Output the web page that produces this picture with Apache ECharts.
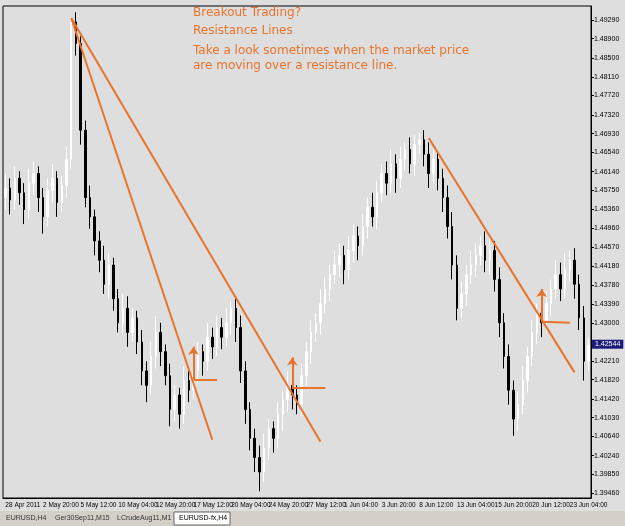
<!DOCTYPE html>
<html>
<head>
<meta charset="utf-8">
<script src="https://cdn.jsdelivr.net/npm/echarts@6/dist/echarts.min.js"></script>
<style>
  html, body { margin: 0; padding: 0; background: #d4d0c8; }
  #chart { width: 625px; height: 526px; }
</style>
</head>
<body>
<div id="chart"></div>
<script>
// date labels, one every 8 candles
const dateLabels = ['28 Apr 2011', '2 May 20:00', '5 May 12:00', '10 May 04:00', '12 May 20:00', '17 May 12:00',
  '20 May 04:00', '24 May 20:00', '27 May 12:00', '1 Jun 04:00', '3 Jun 20:00', '8 Jun 12:00',
  '13 Jun 04:00', '15 Jun 20:00', '20 Jun 12:00', '23 Jun 04:00'];

const priceTicks = [1.4929, 1.4890, 1.4850, 1.4811, 1.4772, 1.4732, 1.4693, 1.4654, 1.4614, 1.4575,
  1.4536, 1.4496, 1.4457, 1.4418, 1.4378, 1.4339, 1.4300, 1.4221, 1.4182, 1.4142,
  1.4103, 1.4064, 1.4024, 1.3985, 1.3946];
const lastPrice = 1.42544;

const closes = [1.4580, 1.4555, 1.4600, 1.4570, 1.4535, 1.4590, 1.4610, 1.4560, 1.4520, 1.4575,
  1.4600, 1.4550, 1.4585, 1.4640, 1.4925, 1.4880, 1.4700, 1.4560, 1.4520, 1.4470,
  1.4430, 1.4380, 1.4420, 1.4350, 1.4300, 1.4330, 1.4280, 1.4310, 1.4260, 1.4200,
  1.4170, 1.4230, 1.4280, 1.4240, 1.4190, 1.4120, 1.4150, 1.4110, 1.4180, 1.4160,
  1.4200, 1.4240, 1.4220, 1.4270, 1.4250, 1.4290, 1.4270, 1.4300, 1.4330, 1.4290,
  1.4200, 1.4120, 1.4060, 1.4020, 1.3990, 1.4040, 1.4080, 1.4060, 1.4110, 1.4140,
  1.4170, 1.4150, 1.4130, 1.4190, 1.4240, 1.4280, 1.4300, 1.4340, 1.4370, 1.4400,
  1.4420, 1.4440, 1.4410, 1.4450, 1.4480, 1.4460, 1.4500, 1.4540, 1.4520, 1.4570,
  1.4610, 1.4590, 1.4630, 1.4600, 1.4640, 1.4660, 1.4630, 1.4670, 1.4680, 1.4650,
  1.4610, 1.4640, 1.4600, 1.4560, 1.4500, 1.4420, 1.4330, 1.4360, 1.4400, 1.4420,
  1.4440, 1.4460, 1.4430, 1.4450, 1.4390, 1.4300, 1.4230, 1.4160, 1.4100, 1.4130,
  1.4180, 1.4230, 1.4280, 1.4320, 1.4300, 1.4340, 1.4370, 1.4400, 1.4370, 1.4410,
  1.4430, 1.4380, 1.4310, 1.4220, 1.4254];

// wick lengths in pips
const wickUp = [30, 20, 25, 15, 20, 30, 25, 15, 20, 25, 30, 15, 20, 25, 10, 20, 15, 20, 25, 15,
  20, 30, 25, 15, 20, 30, 25, 20, 15, 25, 20, 30, 35, 20, 15, 25, 20, 15, 30, 20,
  25, 20, 15, 30, 20, 25, 20, 30, 15, 20, 25, 20, 15, 20, 25, 30, 20, 15, 25, 20,
  30, 25, 20, 25, 20, 25, 20, 30, 25, 20, 30, 25, 20, 30, 25, 20, 25, 20, 30, 25,
  20, 25, 30, 20, 25, 15, 25, 20, 15, 20, 25, 20, 15, 20, 25, 30, 20, 25, 20, 30,
  25, 20, 30, 25, 20, 25, 20, 25, 20, 25, 30, 20, 25, 20, 30, 25, 20, 30, 25, 35,
  20, 25, 20, 25, 15];
const wickDn = [25, 30, 20, 25, 30, 20, 25, 30, 35, 20, 25, 30, 20, 25, 20, 25, 30, 20, 25, 30,
  25, 20, 30, 25, 20, 25, 30, 20, 25, 30, 35, 20, 25, 30, 20, 35, 25, 30, 20, 25,
  20, 25, 30, 20, 25, 20, 25, 20, 25, 30, 25, 30, 25, 30, 40, 20, 25, 30, 20, 35,
  25, 30, 20, 25, 20, 25, 20, 25, 20, 25, 20, 25, 30, 20, 25, 30, 20, 25, 20, 25,
  20, 25, 20, 30, 20, 25, 20, 25, 20, 25, 30, 20, 25, 30, 25, 30, 25, 20, 25, 20,
  25, 20, 25, 30, 25, 30, 25, 30, 35, 25, 20, 25, 20, 25, 30, 20, 25, 20, 25, 20,
  25, 30, 25, 40, 20];

const categories = closes.map((c, i) => (i % 8 === 0 ? dateLabels[i / 8] : ''));
const ohlc = closes.map((c, i) => {
  const o = i === 0 ? 1.4560 : closes[i - 1];
  return [o, c, Math.min(o, c) - wickDn[i] / 10000, Math.max(o, c) + wickUp[i] / 10000];
});

const orange = '#e8742c';
const trendLines = [
  [[14, 1.4933], [44, 1.4057]],
  [[14, 1.4933], [67, 1.4053]],
  [[90, 1.4684], [121, 1.4197]],
  [[40, 1.4182], [45, 1.4182]],
  [[61, 1.4164], [68, 1.4164]],
  [[114, 1.4302], [120, 1.4300]]
];
const arrows = [
  [[40, 1.4182], [40, 1.4250]],
  [[61, 1.4164], [61, 1.4228]],
  [[114, 1.4302], [114, 1.4370]]
];

const font = 'Liberation Sans';
const chart = echarts.init(document.getElementById('chart'));
chart.setOption({
  animation: false,
  backgroundColor: '#dedede',
  grid: { left: 3, right: 34, top: 6, bottom: 28, show: true, borderColor: '#000', borderWidth: 1 },
  xAxis: {
    type: 'category',
    data: categories,
    axisLine: { lineStyle: { color: '#000' } },
    axisTick: { show: false },
    axisLabel: { interval: 0, align: 'left', fontSize: 6.5, color: '#000', fontFamily: font, margin: 4 }
  },
  yAxis: {
    type: 'value',
    position: 'right',
    min: 1.3936,
    max: 1.4958,
    splitLine: { show: false },
    axisLine: { show: true, lineStyle: { color: '#000' } },
    axisTick: { show: true, length: 3, customValues: priceTicks },
    axisLabel: {
      customValues: priceTicks, fontSize: 7, color: '#000', fontFamily: font, margin: 3,
      formatter: v => v.toFixed(5)
    }
  },
  graphic: [
    { type: 'rect', shape: { x: 0, y: 511, width: 625, height: 15 }, style: { fill: '#d4d0c8' } },
    { type: 'text', left: 6, top: 515, style: { text: 'EURUSD,H4', fontSize: 7, fill: '#333', fontFamily: font } },
    { type: 'text', left: 55, top: 515, style: { text: 'Ger30Sep11,M15', fontSize: 7, fill: '#333', fontFamily: font } },
    { type: 'text', left: 117, top: 515, style: { text: 'LCrudeAug11,M1', fontSize: 7, fill: '#333', fontFamily: font } },
    { type: 'rect', shape: { x: 174, y: 512, width: 56, height: 13 }, style: { fill: '#fff', stroke: '#666' } },
    { type: 'text', left: 179, top: 515, style: { text: 'EURUSD-fx,H4', fontSize: 7, fill: '#000', fontFamily: font } },
    { type: 'text', left: 193, top: 7, style: { text: 'Breakout Trading?', fontSize: 12, fill: orange, fontFamily: 'DejaVu Sans' } },
    { type: 'text', left: 193, top: 25, style: { text: 'Resistance Lines', fontSize: 12, fill: orange, fontFamily: 'DejaVu Sans' } },
    { type: 'text', left: 193, top: 43, style: { text: 'Take a look sometimes when the market price\nare moving over a resistance line.', fontSize: 12, lineHeight: 15, fill: orange, fontFamily: 'DejaVu Sans' } }
  ],
  series: [
    {
      type: 'candlestick',
      data: ohlc,
      barWidth: 2,
      itemStyle: { color: '#ffffff', color0: '#000000', borderColor: '#ffffff', borderColor0: '#000000', borderWidth: 1 },
      markLine: {
        symbol: 'none',
        silent: true,
        label: { show: false },
        lineStyle: { color: orange, width: 2, type: 'solid' },
        data: trendLines.map(l => [{ coord: l[0] }, { coord: l[1] }])
      }
    },
    {
      type: 'line',
      data: [],
      markLine: {
        symbol: ['none', 'arrow'],
        symbolSize: 8,
        silent: true,
        label: { show: false },
        lineStyle: { color: orange, width: 2, type: 'solid' },
        data: arrows.map(l => [{ coord: l[0] }, { coord: l[1] }])
      }
    }
  ]
});

// current price tag on the price axis
const tagY = chart.convertToPixel({ yAxisIndex: 0 }, lastPrice);
chart.setOption({
  graphic: [{
    type: 'text', id: 'lastTag', left: 592, top: tagY - 5,
    style: {
      text: lastPrice.toFixed(5), fontSize: 7, fontFamily: font, fill: '#fff',
      backgroundColor: '#1c1c7c', padding: [1, 3]
    }
  }]
});
</script>
</body>
</html>
